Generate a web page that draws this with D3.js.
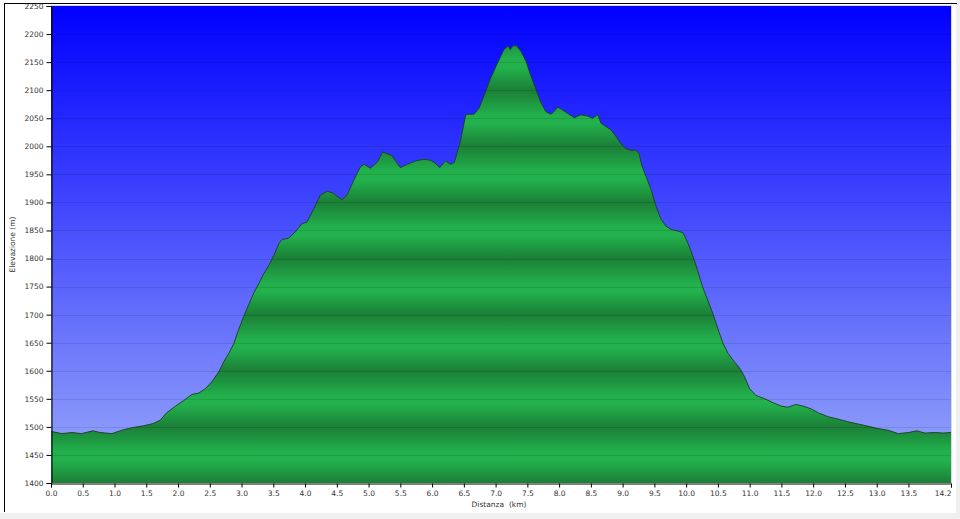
<!DOCTYPE html>
<html>
<head>
<meta charset="utf-8">
<script src="https://cdn.jsdelivr.net/npm/d3@7"></script>
<style>
  html, body { margin: 0; padding: 0; background: #fff; }
  #chart svg { display: block; }
</style>
</head>
<body>
<div id="chart"></div>
<script>
// distance along the track (km)
const distKm = [
  0.00, 0.17, 0.33, 0.48, 0.66, 0.77, 0.96, 1.14, 1.30, 1.46,
  1.61, 1.72, 1.82, 1.96, 2.09, 2.22, 2.32, 2.43, 2.53, 2.64,
  2.72, 2.80, 2.88, 2.95, 3.03, 3.11, 3.19, 3.27, 3.35, 3.43,
  3.51, 3.59, 3.64, 3.74, 3.85, 3.95, 4.03, 4.14, 4.24, 4.35,
  4.43, 4.58, 4.66, 4.77, 4.87, 4.93, 5.03, 5.14, 5.22, 5.29,
  5.37, 5.50, 5.61, 5.74, 5.87, 5.98, 6.06, 6.12, 6.21, 6.29,
  6.35, 6.45, 6.53, 6.58, 6.66, 6.74, 6.82, 6.92, 7.03, 7.13,
  7.20, 7.23, 7.27, 7.33, 7.40, 7.48, 7.55, 7.63, 7.71, 7.79,
  7.87, 7.92, 7.98, 8.05, 8.13, 8.24, 8.34, 8.45, 8.52, 8.61,
  8.66, 8.74, 8.82, 8.90, 8.97, 9.05, 9.13, 9.21, 9.26, 9.30,
  9.37, 9.45, 9.53, 9.60, 9.68, 9.76, 9.87, 9.95, 10.03, 10.11,
  10.18, 10.26, 10.34, 10.42, 10.50, 10.58, 10.66, 10.76, 10.86, 10.92,
  11.00, 11.10, 11.24, 11.37, 11.50, 11.60, 11.73, 11.84, 11.97, 12.08,
  12.24, 12.39, 12.55, 12.71, 12.87, 13.02, 13.18, 13.34, 13.50, 13.63,
  13.76, 13.92, 14.05, 14.17
]

// elevation at each distance (m)
const elevM = [
  1492, 1488, 1490, 1488, 1493, 1490, 1488, 1495, 1499, 1502,
  1506, 1512, 1525, 1537, 1547, 1558, 1560, 1568, 1580, 1598,
  1616, 1631, 1649, 1672, 1696, 1717, 1738, 1755, 1773, 1788,
  1806, 1827, 1834, 1836, 1848, 1862, 1865, 1889, 1913, 1920,
  1917, 1905, 1913, 1940, 1963, 1968, 1961, 1972, 1990, 1987,
  1983, 1962, 1968, 1974, 1977, 1975, 1969, 1962, 1974, 1968,
  1971, 2011, 2056, 2057, 2057, 2068, 2091, 2121, 2148, 2172,
  2179, 2172, 2179, 2179, 2169, 2151, 2127, 2103, 2079, 2062,
  2057, 2062, 2070, 2065, 2059, 2051, 2056, 2054, 2050, 2056,
  2041, 2035, 2029, 2017, 2005, 1996, 1993, 1993, 1987, 1966,
  1946, 1922, 1892, 1871, 1858, 1852, 1849, 1846, 1827, 1803,
  1779, 1749, 1726, 1702, 1675, 1649, 1631, 1616, 1602, 1589,
  1568, 1556, 1550, 1543, 1537, 1535, 1540, 1537, 1532, 1525,
  1518, 1514, 1509, 1505, 1501, 1497, 1494, 1488, 1490, 1493,
  1489, 1490, 1489, 1490
]

// axis ticks
const yTicks = d3.range(1400, 2251, 50)
const xTicks = d3.range(0, 13.51, 0.5)
const xEndLabel = '14.2'

;(function() {
  const width = 960
  const height = 519
  const margin = { left: 51, right: 9, top: 6, bottom: 36 }
  const fontFamily = '"DejaVu Sans", Verdana, sans-serif'

  const data = distKm.map((d, i) => ({ km: d, m: elevM[i] }))

  const x = d3.scaleLinear()
    .domain([0, d3.max(distKm)])
    .range([margin.left, width - margin.right])
  const y = d3.scaleLinear()
    .domain([1400, 2250])
    .range([height - margin.bottom, margin.top])

  const svg = d3.select('#chart').append('svg')
    .attr('width', width)
    .attr('height', height)
    .attr('font-family', fontFamily)

  // window frame around the picture
  svg.append('rect').attr('x', 0).attr('y', 513).attr('width', width).attr('height', 6).attr('fill', '#efefef')
  svg.append('rect').attr('x', 956).attr('y', 0).attr('width', 4).attr('height', height).attr('fill', '#efefef')
  svg.append('line').attr('x1', 4).attr('x2', 957).attr('y1', 3.5).attr('y2', 3.5).attr('stroke', '#000')
  svg.append('line').attr('x1', 4.5).attr('x2', 4.5).attr('y1', 3).attr('y2', 512).attr('stroke', '#000')

  const defs = svg.append('defs')

  // blue sky gradient
  const sky = defs.append('linearGradient')
    .attr('id', 'sky')
    .attr('gradientUnits', 'userSpaceOnUse')
    .attr('x1', 0).attr('x2', 0)
    .attr('y1', y(2250)).attr('y2', y(1400))
  sky.append('stop').attr('offset', 0).attr('stop-color', '#0000ff')
  sky.append('stop').attr('offset', 1).attr('stop-color', '#9aaafa')

  // green bands, dark on every 100 m
  const band = defs.append('linearGradient')
    .attr('id', 'band')
    .attr('gradientUnits', 'userSpaceOnUse')
    .attr('spreadMethod', 'repeat')
    .attr('x1', 0).attr('x2', 0)
    .attr('y1', y(1500)).attr('y2', y(1400))
  band.append('stop').attr('offset', 0).attr('stop-color', '#1b7f37')
  band.append('stop').attr('offset', 0.45).attr('stop-color', '#22b14c')
  band.append('stop').attr('offset', 0.6).attr('stop-color', '#22b14c')
  band.append('stop').attr('offset', 1).attr('stop-color', '#1b7f37')

  const plotW = x.range()[1] - x.range()[0]
  const plotH = y.range()[0] - y.range()[1]

  svg.append('rect')
    .attr('x', margin.left).attr('y', margin.top)
    .attr('width', plotW).attr('height', plotH)
    .attr('fill', 'url(#sky)')

  // elevation profile
  const area = d3.area()
    .x(d => x(d.km))
    .y0(y(1400))
    .y1(d => y(d.m))

  svg.append('path')
    .datum(data)
    .attr('d', area)
    .attr('fill', 'url(#band)')

  svg.append('path')
    .datum(data)
    .attr('d', d3.line().x(d => x(d.km)).y(d => y(d.m)))
    .attr('fill', 'none')
    .attr('stroke', '#1d3d22')
    .attr('stroke-width', 0.9)

  // horizontal grid every 50 m
  svg.append('g')
    .selectAll('line')
    .data(yTicks.slice(1, -1))
    .enter().append('line')
      .attr('x1', margin.left).attr('x2', x.range()[1])
      .attr('y1', d => Math.round(y(d)) + 0.5).attr('y2', d => Math.round(y(d)) + 0.5)
      .attr('stroke', '#000')
      .attr('stroke-opacity', 0.1)

  // thin light edge on top and right of the plot
  svg.append('line')
    .attr('x1', margin.left).attr('x2', x.range()[1] + 1)
    .attr('y1', margin.top - 0.5).attr('y2', margin.top - 0.5)
    .attr('stroke', '#d8d8e0')
  svg.append('line')
    .attr('x1', x.range()[1] + 0.5).attr('x2', x.range()[1] + 0.5)
    .attr('y1', margin.top).attr('y2', y.range()[0])
    .attr('stroke', '#d8d8e0')

  // y axis
  const yAxis = svg.append('g')
    .attr('transform', `translate(${margin.left + 0.5},0)`)
    .call(d3.axisLeft(y).tickValues(yTicks).tickSize(5).tickPadding(3).tickFormat(d3.format('d')))
  yAxis.select('.domain').attr('stroke', '#000')
  yAxis.selectAll('text').attr('font-family', fontFamily).attr('font-size', 7.5).attr('fill', '#333')

  // x axis
  const xAxis = svg.append('g')
    .attr('transform', `translate(0,${y.range()[0] + 0.5})`)
    .call(d3.axisBottom(x).tickValues(xTicks.concat([x.domain()[1]])).tickSize(4).tickPadding(3)
      .tickFormat(d => d === x.domain()[1] ? xEndLabel : d3.format('.1f')(d)))
  xAxis.select('.domain').attr('stroke', '#000')
  xAxis.selectAll('text').attr('font-family', fontFamily).attr('font-size', 7.5).attr('fill', '#333')
  xAxis.selectAll('.tick').filter(d => d === x.domain()[1]).select('text')
    .attr('text-anchor', 'end')

  // axis titles
  svg.append('text')
    .attr('transform', `translate(15,${(margin.top + y.range()[0]) / 2}) rotate(-90)`)
    .attr('text-anchor', 'middle')
    .attr('font-size', 7.5)
    .attr('fill', '#333')
    .text('Elevazione (m)')

  svg.append('text')
    .attr('x', 499)
    .attr('y', 507)
    .attr('text-anchor', 'middle')
    .attr('font-size', 7.5)
    .attr('fill', '#333')
    .attr('xml:space', 'preserve')
    .style('white-space', 'pre')
    .text('Distanza  (km)')
})()
</script>
</body>
</html>
